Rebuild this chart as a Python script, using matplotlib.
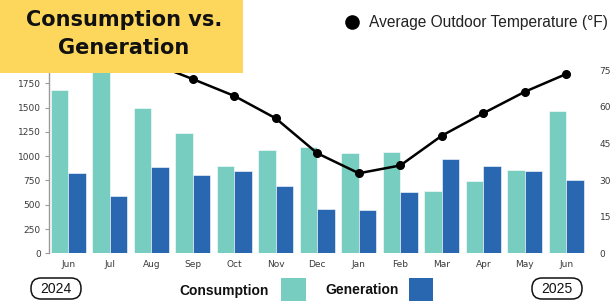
import numpy as np
import matplotlib
matplotlib.use("Agg")
import matplotlib.pyplot as plt
from matplotlib.patches import Rectangle, FancyBboxPatch
from matplotlib.lines import Line2D

months = ['Jun', 'Jul', 'Aug', 'Sep', 'Oct', 'Nov', 'Dec', 'Jan', 'Feb', 'Mar', 'Apr', 'May', 'Jun']
consumption = [1680, 1950, 1500, 1240, 900, 1065, 1090, 1030, 1045, 640, 740, 857, 1465]
generation = [830, 595, 890, 805, 850, 695, 455, 445, 628, 970, 898, 849, 754]
temperature = [76, 80, 78, 71.4, 64.5, 55.3, 41, 32.8, 36, 48.2, 57.4, 66.2, 73.5]
left_ticks = [0, 250, 500, 750, 1000, 1250, 1500, 1750]
right_ticks = [0, 15, 30, 45, 60, 75]

C_CONS = '#77CDBF'
C_GEN = '#2A67B1'
YELLOW = '#FDD75B'

W, H = 615, 301
fig = plt.figure(figsize=(W / 100, H / 100), dpi=100)
fig.patch.set_facecolor('white')


def fx(x):
    return x / W


def fy(y):
    return 1 - y / H


ax_left, ax_right, ax_bottom, ax_top = 49, 585.6, 253.3, 62
ax = fig.add_axes([fx(ax_left), fy(ax_bottom), fx(ax_right - ax_left), (ax_bottom - ax_top) / H])
x = np.arange(len(months))
bw = 0.426
ax.bar(x - bw / 2, consumption, width=bw, color=C_CONS, edgecolor='white', linewidth=0.4)
ax.bar(x + bw / 2, generation, width=bw, color=C_GEN, edgecolor='white', linewidth=0.4)
ax.set_xlim(-0.465, len(months) - 1 + 0.465)
ax.set_ylim(0, 1970)
ax.set_yticks(left_ticks)
ax.set_xticks(x)
ax.set_xticklabels(months)
for s in ['top', 'right', 'bottom']:
    ax.spines[s].set_visible(False)
ax.spines['left'].set_color('#9a9a9a')
ax.spines['left'].set_linewidth(1.0)
ax.tick_params(axis='y', length=3, color='#9a9a9a', labelsize=6.5, labelcolor='#3a3a3a', pad=3)
ax.tick_params(axis='x', length=0, labelsize=6.5, labelcolor='#3a3a3a', pad=5)

ax2 = ax.twinx()
ax2.plot(x, temperature, color='black', linewidth=1.8, marker='o', markersize=5.5)
ax2.set_ylim(0, 78.4)
ax2.set_yticks(right_ticks)
for s in ax2.spines.values():
    s.set_visible(False)
ax2.tick_params(axis='y', length=0, labelsize=6.5, labelcolor='#3a3a3a', pad=10)

# Title box
fig.patches.append(Rectangle((0, fy(72.7)), fx(243), 72.7 / H, transform=fig.transFigure,
                             facecolor=YELLOW, edgecolor='none', zorder=10))
fig.text(fx(124), fy(19.5), 'Consumption vs.', ha='center', va='center', fontsize=15,
         fontweight='bold', color='#111111', zorder=11)
fig.text(fx(124), fy(48.5), 'Generation', ha='center', va='center', fontsize=15,
         fontweight='bold', color='#111111', zorder=11)

# Top legend
fig.lines.append(Line2D([fx(352)], [fy(22)], marker='o', markersize=9.5, color='black',
                        transform=fig.transFigure))
fig.text(fx(369), fy(22), 'Average Outdoor Temperature (°F)', ha='left', va='center',
         fontsize=11.2, family='Liberation Sans', color='#222222')

# Bottom legend
fig.text(fx(179), fy(290.5), 'Consumption', ha='left', va='center', fontsize=10,
         fontweight='bold', family='Liberation Sans', color='#111111')
fig.patches.append(Rectangle((fx(281), 0), fx(25), 23 / H, transform=fig.transFigure,
                             facecolor=C_CONS, edgecolor='none'))
fig.text(fx(325), fy(290.5), 'Generation', ha='left', va='center', fontsize=10,
         fontweight='bold', family='Liberation Sans', color='#111111')
fig.patches.append(Rectangle((fx(409), 0), fx(24), 23 / H, transform=fig.transFigure,
                             facecolor=C_GEN, edgecolor='none'))

# Year pills
for label, cx in [('2024', 56), ('2025', 557)]:
    bx, by, bw_, bh_ = cx - 25, 299, 50, 21
    fig.patches.append(FancyBboxPatch(((bx) / 100, (H - by) / 100), bw_ / 100, bh_ / 100,
                                      boxstyle='round,pad=0,rounding_size=0.1',
                                      transform=fig.dpi_scale_trans, facecolor='white',
                                      edgecolor='#111111', linewidth=1.1))
    fig.text(fx(cx), fy(289), label, ha='center', va='center', fontsize=10,
             family='Liberation Sans', color='#111111')

fig.savefig('out.png', dpi=100)
